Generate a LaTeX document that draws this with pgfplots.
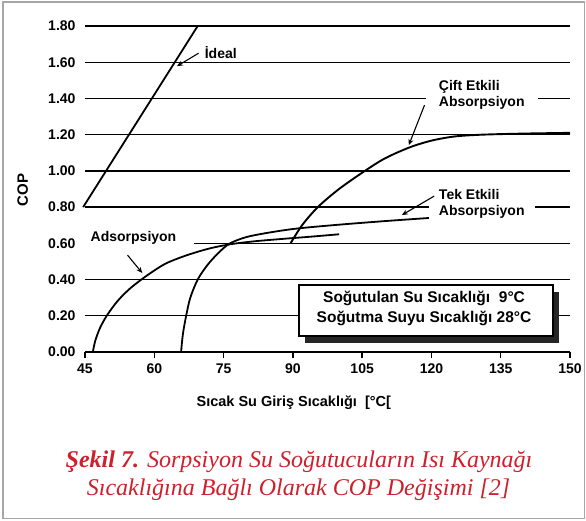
\documentclass[border=0pt]{standalone}
\usepackage{pgfplots}
\pgfplotsset{compat=1.18}
\usepackage{fontspec}
\setmainfont{Liberation Sans}
\newfontfamily\capfont{Liberation Serif}
\usetikzlibrary{arrows.meta}
\definecolor{capred}{RGB}{205,32,44}
\begin{document}
\begin{tikzpicture}[x=1pt,y=1pt]
\useasboundingbox (0pt,0pt) rectangle (586pt,520pt);
\draw[gray!70, line width=1.2pt] (3pt,1.5pt) rectangle (584.5pt,518pt);
\begin{axis}[
  at={(85pt,168pt)}, anchor=south west,
  scale only axis, width=485pt, height=326pt,
  xmin=45, xmax=150, ymin=0, ymax=1.8,
  clip=false,
  axis x line*=bottom, axis y line*=left,
  y axis line style={draw=none},
  x axis line style={line width=1.9pt, -},
  xtick={45,60,75,90,105,120,135,150},
  ytick={0,0.2,0.4,0.6,0.8,1.0,1.2,1.4,1.6,1.8},
  tick align=outside,
  major tick length=6pt,
  xtick style={black, line width=1.5pt},
  ytick style={draw=none},
  ymajorgrids,
  grid style={black, line width=1.4pt},
  /pgf/number format/assume math mode=true,
  ticklabel style={font=\bfseries\fontsize{14}{15}\selectfont},
  yticklabel style={/pgf/number format/.cd, fixed, fixed zerofill, precision=2},
  xticklabel style={yshift=-2pt},
]
% thicker 1.00 line
\addplot[black, line width=2.5pt, forget plot] coordinates {(45,1.0) (150,1.0)};
% Ideal
\addplot[black, line width=1.8pt] coordinates {(44.6,0.8) (69.4,1.8)};
% Adsorpsiyon
\addplot[black, line width=1.8pt, smooth, tension=0.5] coordinates {
 (46.7,0) (47.2,0.06) (48.2,0.13) (49.7,0.2) (52,0.28) (54.5,0.345) (57.2,0.4)
 (60,0.45) (62.6,0.49) (66,0.525) (69.6,0.555) (73,0.578) (77,0.597)
 (82,0.612) (88,0.625) (94,0.637) (100,0.65)};
% Tek Etkili Absorpsiyon
\addplot[black, line width=1.8pt, smooth, tension=0.5] coordinates {
 (65.8,0) (66.2,0.1) (66.9,0.2) (67.8,0.3) (69.4,0.4) (71.5,0.48) (74,0.55)
 (76.4,0.6) (80,0.635) (85,0.66) (91,0.682) (100,0.703) (110,0.723) (119.5,0.74)};
% Cift Etkili Absorpsiyon
\addplot[black, line width=1.9pt, smooth, tension=0.5] coordinates {
 (89.5,0.6) (92,0.7) (95.4,0.8) (100,0.9) (105.6,1.0) (110,1.07) (115.3,1.13)
 (120,1.167) (125,1.19) (131,1.2) (140,1.206) (150,1.21)};
% label backgrounds
\fill[white] (axis cs:44.3,0.575) rectangle (axis cs:68.5,0.665);
\node[font=\bfseries\fontsize{14}{15}\selectfont] at (axis cs:55.5,0.629) {Adsorpsiyon};
\node[fill=white, inner xsep=7pt, font=\bfseries\fontsize{14}{15}\selectfont] at (axis cs:74.4,1.655) {İdeal};
\node[fill=white, inner xsep=13pt, align=left, font=\bfseries\fontsize{14}{16}\selectfont] at (axis cs:130.9,1.418) {Çift Etkili\\Absorpsiyon};
\node[fill=white, inner xsep=10pt, align=left, font=\bfseries\fontsize{14}{16}\selectfont] at (axis cs:130.9,0.817) {Tek Etkili\\Absorpsiyon};
% arrows
\draw[black, line width=1.1pt, -{Stealth[length=6pt,width=5pt]}] (axis cs:69.6,1.65) -- (axis cs:64.9,1.578);
\draw[black, line width=1.1pt, -{Stealth[length=6pt,width=5pt]}] (axis cs:118.5,1.363) -- (axis cs:115.1,1.142);
\draw[black, line width=1.1pt, -{Stealth[length=6pt,width=5pt]}] (axis cs:120.6,0.861) -- (axis cs:113.6,0.756);
\draw[black, line width=1.1pt, -{Stealth[length=6pt,width=5pt]}] (axis cs:54.2,0.535) -- (axis cs:57.4,0.436);
% condition box
\fill[black!85] ([xshift=6pt,yshift=-7pt]axis cs:91.28,0.370) rectangle ([xshift=6pt,yshift=-7pt]axis cs:146.35,0.088);
\draw[black, line width=1.5pt, fill=white] (axis cs:91.28,0.370) rectangle (axis cs:146.35,0.088);
\node[align=center, font=\bfseries\fontsize{15.5}{20}\selectfont] at (axis cs:118.4,0.24) {Soğutulan Su Sıcaklığı\ \ 9°C\\Soğutma Suyu Sıcaklığı 28°C};
% axis labels
\node[font=\bfseries\fontsize{14.5}{15}\selectfont] at (axis cs:90.2,-0.28) {Sıcak Su Giriş Sıcaklığı\ \ [°C[};
\node[rotate=90, font=\bfseries\fontsize{15}{16}\selectfont] at (axis cs:31.5,0.894) {COP};
\end{axis}
\node[text=capred, font=\capfont\itshape\fontsize{24}{28}\selectfont] at (299pt,58pt) {\textbf{Şekil 7.} Sorpsiyon Su Soğutucuların Isı Kaynağı};
\node[text=capred, font=\capfont\itshape\fontsize{24}{28}\selectfont] at (298.5pt,30pt) {Sıcaklığına Bağlı Olarak COP Değişimi [2]};
\end{tikzpicture}
\end{document}
